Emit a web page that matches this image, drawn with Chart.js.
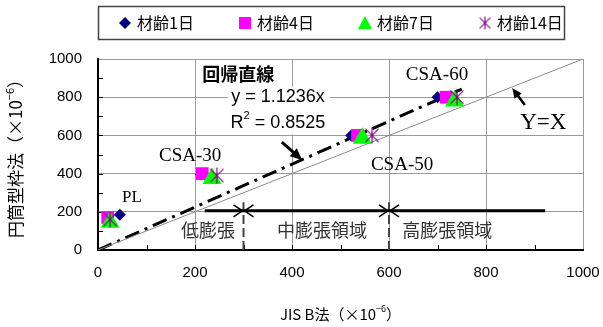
<!DOCTYPE html>
<html><head><meta charset="utf-8">
<script src="https://cdn.jsdelivr.net/npm/chart.js@4/dist/chart.umd.min.js"></script>
<style>html,body{margin:0;padding:0;background:#fff}#wrap{width:603px;height:327px;position:relative}</style>
</head><body><div id="wrap"><canvas id="c" width="603" height="327"></canvas></div>
<script>
// Expansion measured by two methods (×10^-6), per curing age
const seriesNames = ['材齢1日', '材齢4日', '材齢7日', '材齢14日'];
const mixNames = ['PL', 'CSA-30', 'CSA-50', 'CSA-60'];
const jisX_day1 = [45, 212, 522, 700];
const cyl_day1 = [185, 395, 600, 800];
const jisX_day4 = [20, 215, 535, 718];
const cyl_day4 = [170, 400, 600, 800];
const jisX_day7 = [25, 235, 545, 735];
const cyl_day7 = [145, 375, 585, 780];
const jisX_day14 = [25, 245, 565, 740];
const cyl_day14 = [160, 390, 600, 800];
const xTicks = [0, 200, 400, 600, 800, 1000];
const yTicks = [0, 200, 400, 600, 800, 1000];
const slope = 1.1236;
const r2 = 0.8525;
const regressionEndX = 750;
const zoneBounds = [300, 600];
const zoneLineX = [220, 922];
const zoneLineY = 205;
const zoneNames = ['低膨張', '中膨張領域', '高膨張領域'];

const SANS = '"Noto Sans CJK JP", "Noto Sans", sans-serif';
const LAT = '"Liberation Sans", Arial, sans-serif';
const SERIF = '"Liberation Serif", "Times New Roman", serif';

function pts(xs, ys) { return xs.map((x, i) => ({ x, y: ys[i] })); }

// six-armed star marker (× plus a vertical stroke)
function starMarker(size, color, lw) {
  const c = document.createElement('canvas');
  c.width = size; c.height = size;
  const g = c.getContext('2d');
  g.strokeStyle = color; g.lineWidth = lw;
  const h = size / 2, r = size / 2 - 1;
  g.beginPath();
  g.moveTo(h, h - r); g.lineTo(h, h + r);
  const d = r * 0.82;
  g.moveTo(h - d, h - d); g.lineTo(h + d, h + d);
  g.moveTo(h + d, h - d); g.lineTo(h - d, h + d);
  g.stroke();
  return c;
}
const star = starMarker(18, '#800080', 1.2);

function sx(chart, v) { return chart.scales.x.getPixelForValue(v); }
function sy(chart, v) { return chart.scales.y.getPixelForValue(v); }

function arrow(ctx, x1, y1, x2, y2, lw, head) {
  const a = Math.atan2(y2 - y1, x2 - x1);
  ctx.save();
  ctx.strokeStyle = '#000'; ctx.fillStyle = '#000'; ctx.lineWidth = lw;
  ctx.beginPath(); ctx.moveTo(x1, y1);
  ctx.lineTo(x2 - Math.cos(a) * head * 0.8, y2 - Math.sin(a) * head * 0.8); ctx.stroke();
  ctx.beginPath();
  ctx.moveTo(x2, y2);
  ctx.lineTo(x2 - head * Math.cos(a - 0.42), y2 - head * Math.sin(a - 0.42));
  ctx.lineTo(x2 - head * Math.cos(a + 0.42), y2 - head * Math.sin(a + 0.42));
  ctx.closePath(); ctx.fill();
  ctx.restore();
}

function chevron(ctx, x, y, dir) {
  // open arrowhead with its tip at (x, y); dir = +1 points right, -1 left
  ctx.save();
  ctx.strokeStyle = '#000'; ctx.lineWidth = 1.5;
  ctx.beginPath();
  ctx.moveTo(x - dir * 9, y - 6); ctx.lineTo(x, y); ctx.lineTo(x - dir * 9, y + 6);
  ctx.stroke();
  ctx.restore();
}

// text with a trailing superscript and closing part
function supText(ctx, pre, sup, post, size, font) {
  ctx.font = size + 'px ' + font;
  const w1 = ctx.measureText(pre).width;
  ctx.font = Math.round(size * 0.62) + 'px ' + font;
  const w2 = ctx.measureText(sup).width;
  ctx.font = size + 'px ' + font;
  const w3 = ctx.measureText(post).width;
  return { w: w1 + w2 + w3, draw(x, y) {
    ctx.textAlign = 'left'; ctx.textBaseline = 'middle';
    ctx.font = size + 'px ' + font; ctx.fillText(pre, x, y);
    ctx.font = Math.round(size * 0.62) + 'px ' + font; ctx.fillText(sup, x + w1, y - size * 0.38);
    ctx.font = size + 'px ' + font; ctx.fillText(post, x + w1 + w2, y);
  } };
}

const overlay = {
  id: 'overlay',
  beforeDatasetsDraw(chart) {
    const ctx = chart.ctx, a = chart.chartArea;
    ctx.save();
    // inward minor ticks every 100
    ctx.strokeStyle = '#000'; ctx.lineWidth = 1;
    ctx.beginPath();
    for (let v = 100; v < 1000; v += 100) {
      const px = Math.round(sx(chart, v)) + 0.5;
      ctx.moveTo(px, a.bottom); ctx.lineTo(px, a.bottom - 5);
      const py = Math.round(sy(chart, v)) + 0.5;
      ctx.moveTo(a.left, py); ctx.lineTo(a.left + 5, py);
    }
    ctx.stroke();
    ctx.restore();
  },
  afterDatasetsDraw(chart) {
    const ctx = chart.ctx, a = chart.chartArea;
    ctx.save();
    // zone boundary arrowheads
    const yy = sy(chart, zoneLineY);
    zoneBounds.forEach(b => {
      const px = sx(chart, b);
      chevron(ctx, px - 1, yy, 1);
      chevron(ctx, px + 1, yy, -1);
    });
    // zone names
    ctx.fillStyle = '#333'; ctx.font = '18px ' + SANS;
    ctx.textAlign = 'center'; ctx.textBaseline = 'middle';
    const zx = [227, 462, 720];
    zoneNames.forEach((t, i) => ctx.fillText(t, sx(chart, zx[i]), sy(chart, 105)));
    // mix labels
    ctx.fillStyle = '#000';
    ctx.font = '17px ' + SERIF; ctx.fillText(mixNames[0], sx(chart, 70), sy(chart, 277));
    ctx.font = '19px ' + SERIF;
    ctx.fillText(mixNames[1], sx(chart, 190), sy(chart, 492));
    ctx.fillText(mixNames[2], sx(chart, 627), sy(chart, 445));
    ctx.fillText(mixNames[3], sx(chart, 699), sy(chart, 916));
    ctx.font = '23px ' + SERIF; ctx.fillText('Y=X', sx(chart, 918), sy(chart, 665));
    // regression caption
    ctx.fillStyle = '#fff';
    ctx.fillRect(sx(chart, 268), sy(chart, 855), sx(chart, 478) - sx(chart, 268), sy(chart, 605) - sy(chart, 855));
    ctx.fillStyle = '#000';
    ctx.font = 'bold 18px ' + SANS; ctx.fillText('回帰直線', sx(chart, 289), sy(chart, 921));
    ctx.font = '18px ' + LAT;
    ctx.fillText('y = ' + slope + 'x', sx(chart, 371), sy(chart, 801));
    const rt = supText(ctx, 'R', '2', ' = ' + r2, 18, LAT);
    rt.draw(sx(chart, 371) - rt.w / 2, sy(chart, 665));
    // pointer arrows
    arrow(ctx, sx(chart, 379), sy(chart, 565), sx(chart, 421), sy(chart, 471), 3, 13);
    arrow(ctx, sx(chart, 880), sy(chart, 759), sx(chart, 854), sy(chart, 848), 2.5, 11);
    ctx.restore();
  },
  afterDraw(chart) {
    const ctx = chart.ctx, a = chart.chartArea;
    ctx.save();
    // axis titles
    ctx.fillStyle = '#000';
    const xt = supText(ctx, 'JIS B法（×10', '−6', '）', 15, SANS);
    xt.draw((a.left + a.right) / 2 - xt.w / 2, 314);
    ctx.translate(16, (a.top + a.bottom) / 2);
    ctx.rotate(-Math.PI / 2);
    const yt = supText(ctx, '円筒型枠法（×10', '−6', '）', 17, SANS);
    yt.draw(-yt.w / 2, 0);
    ctx.restore();

    // legend box
    ctx.save();
    ctx.strokeStyle = '#444'; ctx.lineWidth = 1.5;
    ctx.strokeRect(98.5, 6.5, 466, 33);
    const ly = 23;
    const lx = [125, 245, 365, 485];
    // diamond
    ctx.fillStyle = '#000080';
    ctx.beginPath(); ctx.moveTo(lx[0], ly - 6); ctx.lineTo(lx[0] + 6, ly); ctx.lineTo(lx[0], ly + 6); ctx.lineTo(lx[0] - 6, ly); ctx.closePath(); ctx.fill();
    // square
    ctx.fillStyle = '#ff00ff'; ctx.fillRect(lx[1] - 6, ly - 6, 12, 12);
    // triangle
    ctx.fillStyle = '#00ff00';
    ctx.beginPath(); ctx.moveTo(lx[2], ly - 7); ctx.lineTo(lx[2] + 7, ly + 6); ctx.lineTo(lx[2] - 7, ly + 6); ctx.closePath(); ctx.fill();
    // star
    ctx.drawImage(starMarker(15, '#800080', 1.1), lx[3] - 7.5, ly - 7.5);
    ctx.fillStyle = '#000'; ctx.font = '16px ' + SANS;
    ctx.textAlign = 'left'; ctx.textBaseline = 'middle';
    seriesNames.forEach((t, i) => ctx.fillText(t, lx[i] + 12, ly));
    ctx.restore();
  }
};

const lineBase = { showLine: true, pointRadius: 0, pointHoverRadius: 0, fill: false, order: 10 };

new Chart(document.getElementById('c'), {
  type: 'scatter',
  data: {
    datasets: [
      { ...lineBase, label: 'Y=X', data: [{ x: 0, y: 0 }, { x: 1000, y: 1000 }], borderColor: '#8c8c8c', borderWidth: 1 },
      { ...lineBase, label: 'zone', data: [{ x: zoneLineX[0], y: zoneLineY }, { x: zoneLineX[1], y: zoneLineY }], borderColor: '#000', borderWidth: 3 },
      { ...lineBase, label: 'b1', data: [{ x: zoneBounds[0], y: 0 }, { x: zoneBounds[0], y: 250 }], borderColor: '#444', borderWidth: 2, borderDash: [9, 4] },
      { ...lineBase, label: 'b2', data: [{ x: zoneBounds[1], y: 0 }, { x: zoneBounds[1], y: 250 }], borderColor: '#444', borderWidth: 2, borderDash: [9, 4] },
      { ...lineBase, label: 'reg', data: [{ x: 0, y: 0 }, { x: regressionEndX, y: slope * regressionEndX }], borderColor: '#000', borderWidth: 3, borderDash: [15, 6, 3, 6] },
      { label: seriesNames[0], data: pts(jisX_day1, cyl_day1), pointStyle: 'rectRot', pointRadius: 6, backgroundColor: '#000080', borderColor: '#000080', borderWidth: 0, order: 4 },
      { label: seriesNames[1], data: pts(jisX_day4, cyl_day4), pointStyle: 'rect', pointRadius: 9, backgroundColor: '#ff00ff', borderColor: '#ff00ff', borderWidth: 0, order: 3 },
      { label: seriesNames[2], data: pts(jisX_day7, cyl_day7), pointStyle: 'triangle', pointRadius: 11, backgroundColor: '#00ff00', borderColor: '#00ff00', borderWidth: 0, order: 2 },
      { label: seriesNames[3], data: pts(jisX_day14, cyl_day14), pointStyle: star, order: 1 }
    ]
  },
  options: {
    responsive: false, animation: false, devicePixelRatio: 1,
    layout: { padding: { left: 0, top: 59, right: 20, bottom: 0 } },
    plugins: { legend: { display: false }, tooltip: { enabled: false } },
    scales: {
      x: {
        type: 'linear', min: 0, max: 1000,
        afterFit(s) { s.height = 77; s.paddingLeft = 0; s.paddingRight = 0; },
        afterBuildTicks(s) { s.ticks = xTicks.map(v => ({ value: v })); },
        ticks: { padding: 14, color: '#000', font: { size: 15, family: LAT }, maxRotation: 0, callback: v => String(v) },
        grid: { drawTicks: false, color: c => (c.tick && c.tick.value > 0) ? '#9a9a9a' : 'transparent', lineWidth: 1 },
        border: { color: '#000', width: 2 }
      },
      y: {
        type: 'linear', min: 0, max: 1000,
        afterFit(s) { s.width = 98; s.paddingTop = 0; s.paddingBottom = 0; },
        afterBuildTicks(s) { s.ticks = yTicks.map(v => ({ value: v })); },
        ticks: { padding: 16, color: '#000', font: { size: 15, family: LAT }, callback: v => String(v) },
        grid: { drawTicks: false, color: c => (c.tick && c.tick.value > 0) ? '#9a9a9a' : 'transparent', lineWidth: 1 },
        border: { color: '#000', width: 2 }
      }
    }
  },
  plugins: [overlay]
});
</script></body></html>
